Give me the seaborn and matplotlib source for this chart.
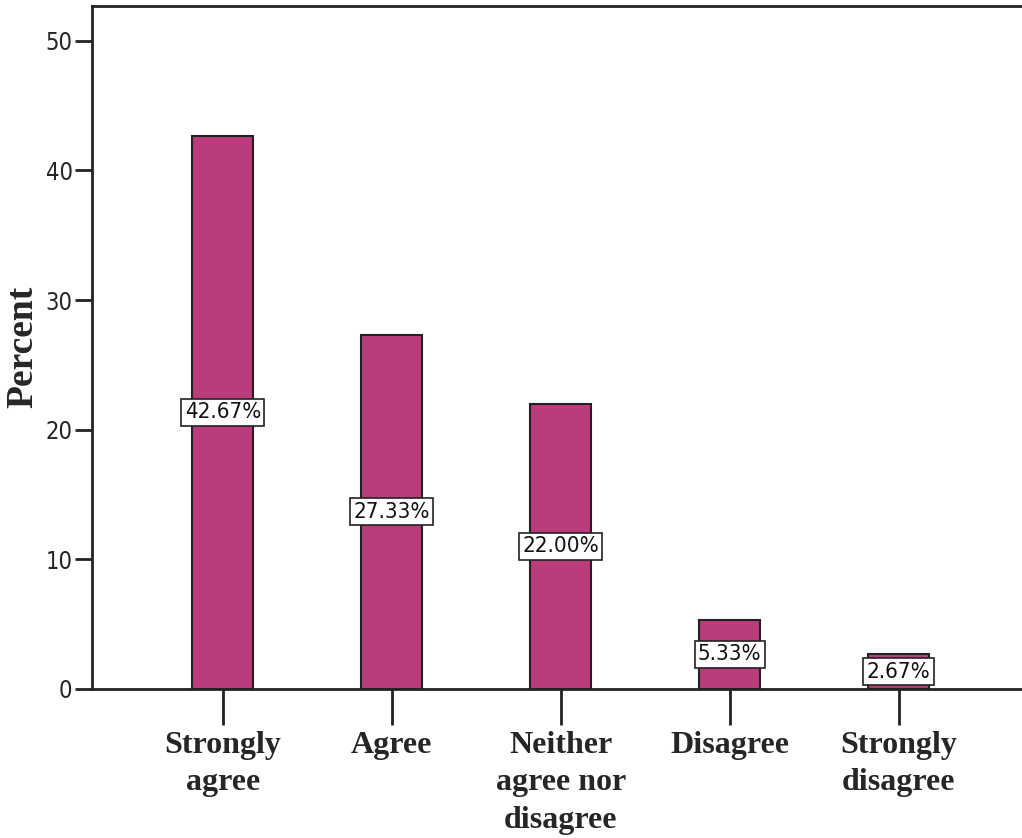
import pandas as pd
import seaborn as sns
import matplotlib.pyplot as plt

categories = ["Strongly\nagree", "Agree", "Neither\nagree nor\ndisagree", "Disagree", "Strongly\ndisagree"]
percents = [42.67, 27.33, 22.00, 5.33, 2.67]

BAR_COLOR = "#BA3C7A"


def main():
    sns.set_style("white")
    plt.rcParams["font.family"] = ["Liberation Sans Narrow", "DejaVu Sans"]
    plt.rcParams["font.stretch"] = "condensed"

    df = pd.DataFrame({"Category": categories, "Percent": percents})

    fig = plt.figure(figsize=(10.22, 8.38), dpi=100)
    ax = fig.add_axes([0.090, 0.178, 0.91, 0.815])

    sns.barplot(data=df, x="Category", y="Percent", color=BAR_COLOR, saturation=1,
                width=0.36, edgecolor="#222222", linewidth=1.5, ax=ax)

    # value labels in the middle of each bar
    for i, v in enumerate(percents):
        ax.text(i, v / 2, f"{v:.2f}%", ha="center", va="center", fontsize=16,
                color="#111111",
                bbox=dict(boxstyle="square,pad=0.15", facecolor="white",
                          edgecolor="#222222", linewidth=1.2))

    ax.set_xlim(-0.775, 4.73)
    ax.set_ylim(0, 52.7)
    ax.set_yticks([0, 10, 20, 30, 40, 50])

    for side in ["left", "bottom", "top"]:
        ax.spines[side].set_visible(True)
        ax.spines[side].set_color("#222222")
        ax.spines[side].set_linewidth(2)
    ax.spines["right"].set_visible(False)

    ax.tick_params(axis="y", direction="out", length=12, width=2, color="#222222",
                   labelsize=17, pad=2, left=True)
    ax.tick_params(axis="x", direction="out", length=26, width=2, color="#222222",
                   pad=4, bottom=True)
    for lbl in ax.get_xticklabels():
        lbl.set_fontfamily("Liberation Serif")
        lbl.set_fontweight("bold")
        lbl.set_fontstretch("normal")
        lbl.set_fontsize(23)
        lbl.set_linespacing(1.4)

    ax.set_xlabel("")
    ax.set_ylabel("Percent", fontfamily="Liberation Serif", fontweight="bold",
                  fontstretch="normal", fontsize=27)
    ax.yaxis.set_label_coords(-0.056, 0.5)

    fig.savefig("out.png", dpi=100)


if __name__ == "__main__":
    main()
